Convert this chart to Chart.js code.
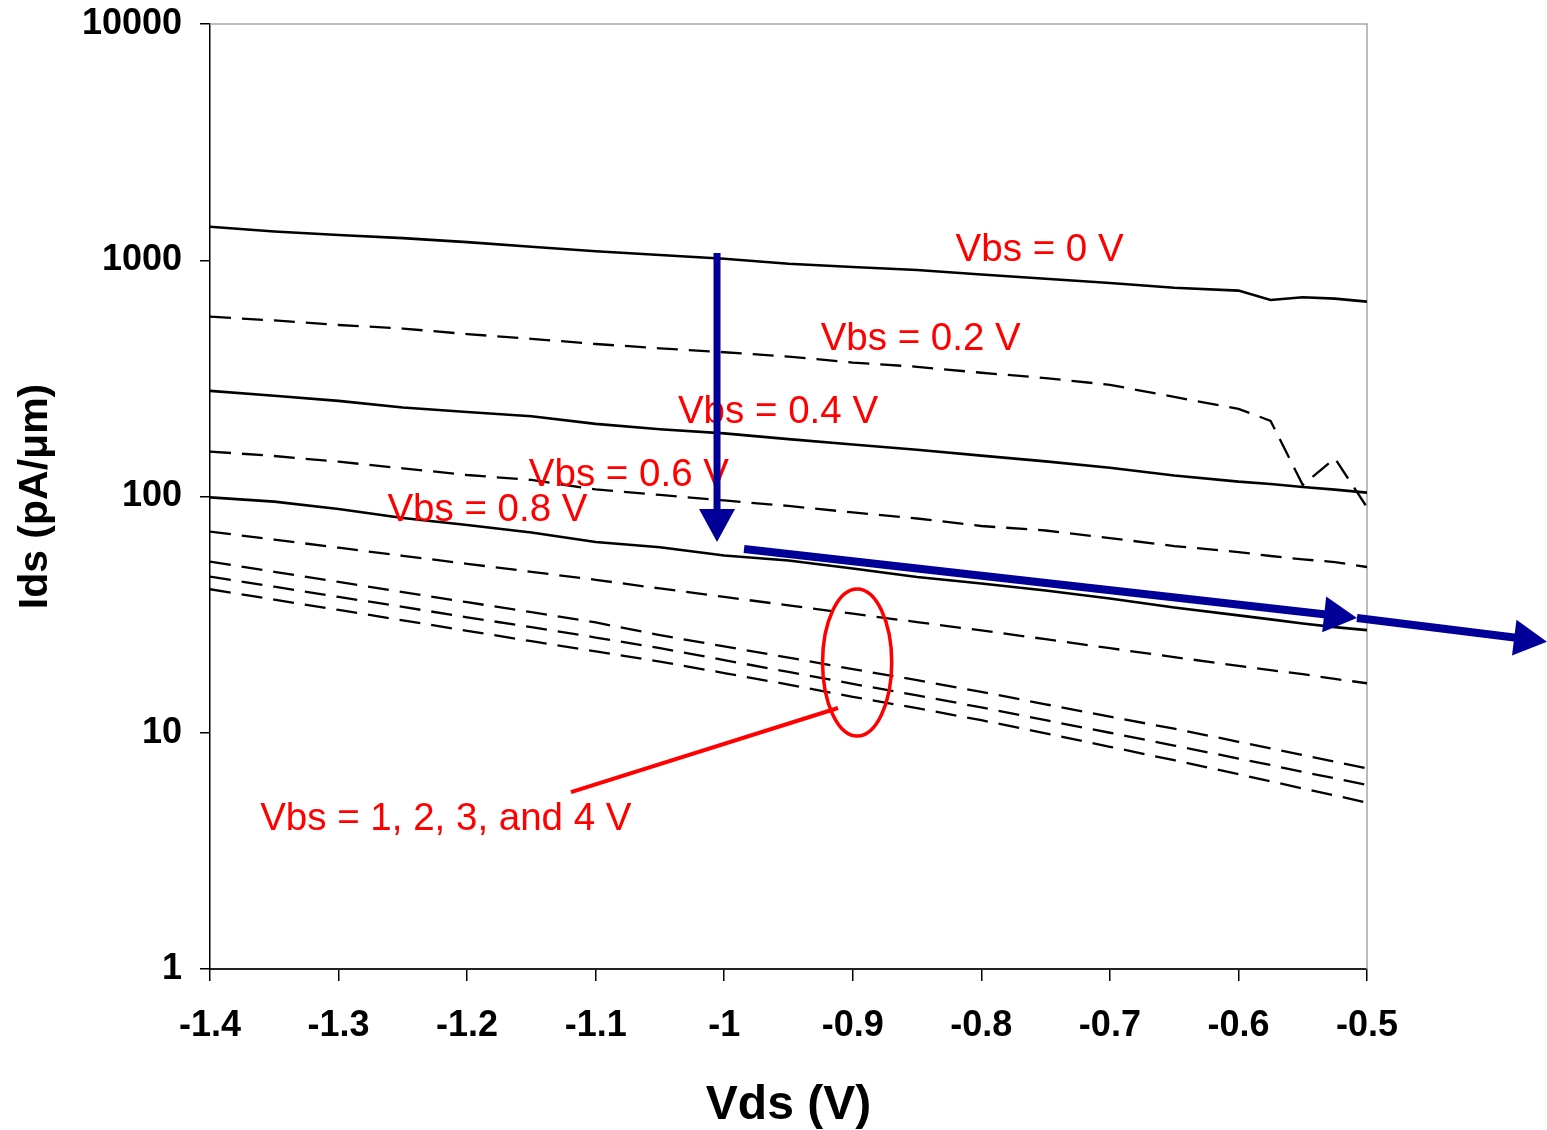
<!DOCTYPE html>
<html>
<head>
<meta charset="utf-8">
<title>Ids vs Vds</title>
<script src="https://cdn.jsdelivr.net/npm/chart.js@4.4.1/dist/chart.umd.min.js"></script>
<style>
  html, body { margin: 0; padding: 0; background: #fff; }
  #wrap { width: 1547px; height: 1130px; }
</style>
</head>
<body>
<div id="wrap"><canvas id="idsChart" width="1547" height="1130"></canvas></div>
<script>
// drain voltage sweep (V)
var vds = [-1.4, -1.35, -1.3, -1.25, -1.2, -1.15, -1.1, -1.05, -1.0, -0.95, -0.9,
           -0.85, -0.8, -0.75, -0.7, -0.65, -0.6, -0.575, -0.55, -0.525, -0.5];

// Ids in pA/um for each body bias
var ids0  = [1387, 1323, 1279, 1241, 1193, 1141, 1092, 1053, 1014, 967, 936, 909, 870, 835, 801, 765, 744, 679, 697, 688, 668];
var ids02 = [577, 556, 532, 514, 487, 465, 442, 424, 408, 391, 369, 354, 334, 317, 297, 264, 235, 209, 112, 145, 90];
var ids04 = [280, 267, 254, 238, 228, 218.5, 203, 192.5, 185, 175, 166, 157.6, 149, 140.8, 132.4, 122.7, 115.6, 113, 109.7, 106.9, 103.8];
var ids06 = [155, 148.4, 140.4, 131.6, 123.3, 117.5, 107.1, 101.5, 96.2, 91.2, 85.6, 80.7, 75, 71.8, 66.7, 61.7, 58.2, 56, 54.2, 52.8, 50.3];
var ids08 = [99.2, 95.1, 88.5, 81.1, 75.8, 70.4, 64.2, 61, 56.3, 53.6, 49.6, 45.6, 42.8, 40, 37, 33.9, 31.4, 30.2, 29, 28, 27.2];
var ids1  = [71, 65.7, 60.7, 56.1, 51.9, 48, 44.4, 40.8, 37.6, 34.6, 31.9, 29.4, 27.1, 24.9, 22.8, 20.9, 19.2, 18.4, 17.7, 16.9, 16.2];
var ids2  = [53, 48, 43.5, 39.4, 35.7, 32.4, 29.3, 25.9, 23.2, 20.8, 18.6, 16.7, 14.9, 13.2, 11.7, 10.4, 9.16, 8.59, 8.05, 7.55, 7.07];
var ids3  = [45.8, 41.5, 37.6, 34.1, 30.8, 28, 25.3, 22.8, 20.3, 18.1, 16.1, 14.4, 12.8, 11.3, 10, 8.83, 7.78, 7.3, 6.83, 6.41, 6.01];
var ids4  = [40.5, 36.6, 33.1, 29.9, 27, 24.4, 22.1, 20, 17.9, 16, 14.2, 12.7, 11.3, 9.94, 8.72, 7.65, 6.68, 6.23, 5.81, 5.43, 5.06];

var seriesData = [ids0, ids02, ids04, ids06, ids08, ids1, ids2, ids3, ids4];
var seriesNames = ['Vbs = 0 V', 'Vbs = 0.2 V', 'Vbs = 0.4 V', 'Vbs = 0.6 V', 'Vbs = 0.8 V',
                   'Vbs = 1 V', 'Vbs = 2 V', 'Vbs = 3 V', 'Vbs = 4 V'];
var seriesDashed = [false, true, false, true, false, true, true, true, true];

// axis ticks
var xTicks = [-1.4, -1.3, -1.2, -1.1, -1.0, -0.9, -0.8, -0.7, -0.6, -0.5];
var xTickLabels = ['-1.4', '-1.3', '-1.2', '-1.1', '-1', '-0.9', '-0.8', '-0.7', '-0.6', '-0.5'];
var yTicks = [1, 10, 100, 1000, 10000];
var yTickLabels = ['1', '10', '100', '1000', '10000'];

// red curve labels, placed at (Vds, Ids) of the text baseline start
var labelTexts = ['Vbs = 0 V', 'Vbs = 0.2 V', 'Vbs = 0.4 V', 'Vbs = 0.6 V', 'Vbs = 0.8 V', 'Vbs = 1, 2, 3, and 4 V'];
var labelVds = [-0.82, -0.925, -1.036, -1.152, -1.262, -1.361];
var labelIds = [993, 417, 205, 111, 79, 3.88];

// ellipse round the high-bias group: [left Vds, right Vds, top Ids, bottom Ids]
var groupRing = [-0.9235, -0.8697, 40.6, 9.69];
// leader from the ring down to its label
var groupLeader = [-0.9115, 12.73, -1.1192, 5.61];

// blue arrows: [fromVds, fromIds, toVds, toIds, shaft width]
var shiftArrows = [
  [-1.0056, 1073, -1.0056, 64.2, 7],
  [-0.9846, 59.9, -0.5078, 30.6, 8],
  [-0.5078, 30.6, -0.36, 24.3, 8]
];

var FONT = '"Liberation Sans", Arial, Helvetica, sans-serif';
Chart.defaults.font.family = FONT;
Chart.defaults.color = '#000';

var datasets = seriesData.map(function(vals, i) {
  return {
    label: seriesNames[i],
    data: vals.map(function(v, k) { return { x: vds[k], y: v }; }),
    borderColor: '#000',
    borderWidth: seriesDashed[i] ? 2.3 : 2.6,
    borderDash: seriesDashed[i] ? [21, 11] : [],
    pointRadius: 0,
    fill: false,
    tension: 0
  };
});

// grey top/right edges of the plot area
var plotFrame = {
  id: 'plotFrame',
  beforeDatasetsDraw: function(chart) {
    var a = chart.chartArea, ctx = chart.ctx;
    ctx.save();
    ctx.strokeStyle = '#a6a6a6';
    ctx.lineWidth = 1.5;
    ctx.beginPath();
    ctx.moveTo(a.left, a.top);
    ctx.lineTo(a.right, a.top);
    ctx.lineTo(a.right, a.bottom);
    ctx.stroke();
    ctx.restore();
  }
};

function drawArrow(ctx, x1, y1, x2, y2, width) {
  var headLen = 33, headHalf = 18;
  var dx = x2 - x1, dy = y2 - y1;
  var len = Math.sqrt(dx * dx + dy * dy);
  var ux = dx / len, uy = dy / len;
  var bx = x2 - ux * headLen, by = y2 - uy * headLen;
  ctx.lineWidth = width;
  ctx.lineCap = 'butt';
  ctx.beginPath();
  ctx.moveTo(x1, y1);
  ctx.lineTo(bx + ux * 2, by + uy * 2);
  ctx.stroke();
  ctx.beginPath();
  ctx.moveTo(x2, y2);
  ctx.lineTo(bx - uy * headHalf, by + ux * headHalf);
  ctx.lineTo(bx + uy * headHalf, by - ux * headHalf);
  ctx.closePath();
  ctx.fill();
}

var annotate = {
  id: 'annotate',
  afterDraw: function(chart) {
    var ctx = chart.ctx, xs = chart.scales.x, ys = chart.scales.y;
    var px = function(v) { return xs.getPixelForValue(v); };
    var py = function(v) { return ys.getPixelForValue(v); };
    ctx.save();

    // curve labels
    ctx.fillStyle = '#ff0000';
    ctx.font = '38.5px ' + FONT;
    ctx.textBaseline = 'alphabetic';
    ctx.textAlign = 'left';
    for (var i = 0; i < labelTexts.length; i++) {
      ctx.fillText(labelTexts[i], px(labelVds[i]), py(labelIds[i]));
    }

    // ring and leader
    var l = px(groupRing[0]), r = px(groupRing[1]);
    var t = py(groupRing[2]), b = py(groupRing[3]);
    ctx.strokeStyle = '#ff0000';
    ctx.lineWidth = 3.5;
    ctx.beginPath();
    ctx.ellipse((l + r) / 2, (t + b) / 2, (r - l) / 2, (b - t) / 2, 0, 0, Math.PI * 2);
    ctx.stroke();
    ctx.lineWidth = 4;
    ctx.beginPath();
    ctx.moveTo(px(groupLeader[0]), py(groupLeader[1]));
    ctx.lineTo(px(groupLeader[2]), py(groupLeader[3]));
    ctx.stroke();

    // blue arrows
    ctx.strokeStyle = '#000099';
    ctx.fillStyle = '#000099';
    shiftArrows.forEach(function(a) {
      drawArrow(ctx, px(a[0]), py(a[1]), px(a[2]), py(a[3]), a[4]);
    });
    ctx.restore();
  }
};

new Chart(document.getElementById('idsChart'), {
  type: 'line',
  data: { datasets: datasets },
  plugins: [plotFrame, annotate],
  options: {
    responsive: false,
    animation: false,
    devicePixelRatio: 1,
    layout: { padding: { left: 0, right: 180, top: 24, bottom: 0 } },
    plugins: {
      legend: { display: false },
      tooltip: { enabled: false }
    },
    scales: {
      x: {
        type: 'linear',
        min: -1.4,
        max: -0.5,
        afterBuildTicks: function(s) { s.ticks = xTicks.map(function(v) { return { value: v }; }); },
        afterFit: function(s) {
          s.height = 161;
          s.paddingLeft = 0;
          s.paddingRight = 0;
        },
        ticks: {
          callback: function(v, i) { return xTickLabels[i]; },
          font: { size: 36, weight: 'bold' },
          color: '#000',
          padding: 23,
          maxRotation: 0,
          autoSkip: false
        },
        grid: { drawOnChartArea: false, drawTicks: true, tickLength: 12, color: '#000', lineWidth: 1.5 },
        border: { display: true, color: '#222', width: 2 },
        title: {
          display: true,
          text: 'Vds (V)',
          color: '#000',
          font: { size: 48, weight: 'bold', lineHeight: 1.03 },
          padding: 0
        }
      },
      y: {
        type: 'logarithmic',
        min: 1,
        max: 10000,
        afterBuildTicks: function(s) { s.ticks = yTicks.map(function(v) { return { value: v, major: true }; }); },
        afterFit: function(s) {
          s.width = 210;
          s.paddingTop = 0;
          s.paddingBottom = 0;
        },
        ticks: {
          callback: function(v, i) { return yTickLabels[i]; },
          font: { size: 36, weight: 'bold' },
          color: '#000',
          padding: 18,
          autoSkip: false
        },
        grid: { drawOnChartArea: false, drawTicks: true, tickLength: 10, color: '#000', lineWidth: 1.5 },
        border: { display: true, color: '#000', width: 1.5 },
        title: {
          display: true,
          text: 'Ids (pA/\u03bcm)',
          color: '#000',
          font: { size: 41, weight: 'bold', lineHeight: 1.2 },
          padding: { top: 11, bottom: 0 }
        }
      }
    }
  }
});
</script>
</body>
</html>
